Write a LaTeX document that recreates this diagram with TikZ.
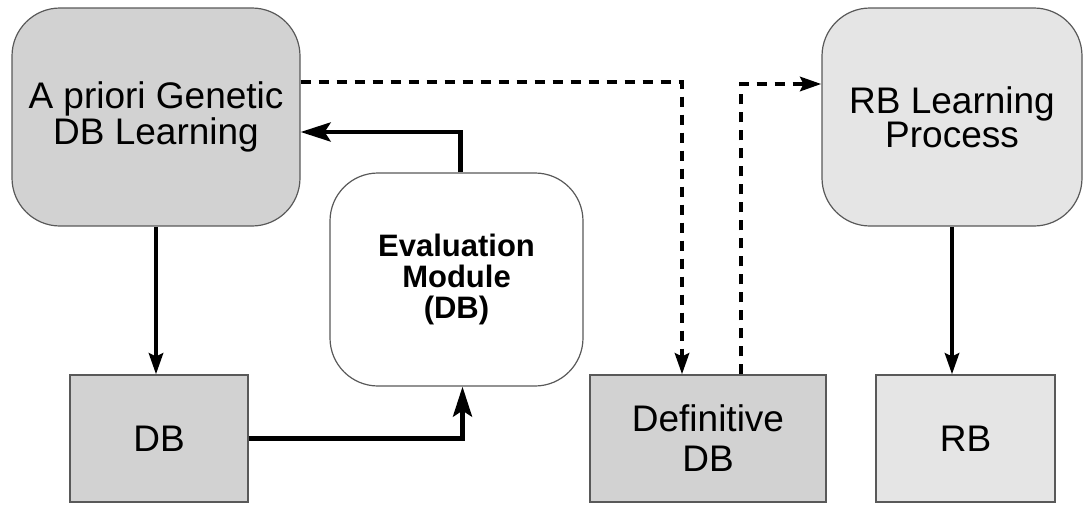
\documentclass[tikz,border=0pt]{standalone}
\usepackage{fontspec}
\setmainfont{Liberation Sans}
\usetikzlibrary{arrows.meta}
\begin{document}
\begin{tikzpicture}[x=1pt,y=-1pt,
  proc/.style={draw=black!65,line width=1.2pt,rounded corners=48pt,minimum height=218pt,
    inner sep=0pt,align=center,font=\fontsize{37}{34}\selectfont},
  store/.style={draw=black!65,line width=1.2pt,minimum height=127pt,
    inner sep=0pt,align=center,font=\fontsize{37}{40}\selectfont},
  arr/.style={line width=4.5pt,-{Stealth[length=21pt,width=14pt,inset=3pt]}},
  bigarr/.style={line width=4.5pt,-{Stealth[length=30pt,width=19pt,inset=6pt]}},
  darr/.style={arr,dash pattern=on 10pt off 8pt}]
\useasboundingbox (0,0) rectangle (1084,504);

\node[proc,fill=gray!35,minimum width=288pt] (apriori) at (156,117) {A priori Genetic\\DB Learning};
\node[proc,fill=white,minimum width=253pt,minimum height=213pt,
  font=\bfseries\fontsize{31}{31}\selectfont] (eval) at (456.5,279.5) {Evaluation\\Module\\(DB)};
\node[proc,fill=gray!20,minimum width=260pt] (rblp) at (952,117) {RB Learning\\Process};

\node[store,fill=gray!35,minimum width=178pt] (db) at (159,438.5) {DB};
\node[store,fill=gray!35,minimum width=236pt] (defdb) at (708,438.5) {Definitive\\DB};
\node[store,fill=gray!20,minimum width=179pt] (rb) at (965.5,438.5) {RB};

\draw[arr] (apriori.south) -- (apriori.south |- db.north);
\draw[bigarr] ([xshift=4pt]eval.north) |- ([yshift=-15pt]apriori.east);
\draw[bigarr] (db.east) -| ([xshift=6pt]eval.south);
\draw[darr] ([yshift=35pt]apriori.east) -| ([xshift=-26pt]defdb.north);
\draw[darr] ([xshift=33pt]defdb.north) |- ([yshift=33pt]rblp.west);
\draw[arr] (rblp.south) -- (rblp.south |- rb.north);
\end{tikzpicture}
\end{document}
